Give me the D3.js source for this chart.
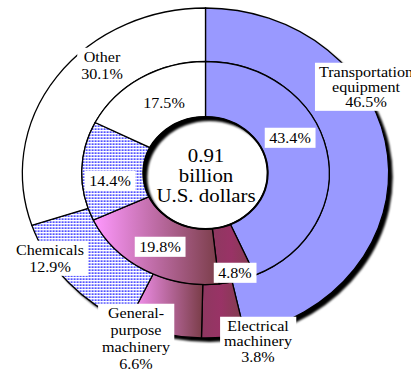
<!DOCTYPE html>
<html><head><meta charset="utf-8">
<script src="https://cdn.jsdelivr.net/npm/d3@7"></script>
<style>
html,body{margin:0;padding:0;background:#fff;}
svg{display:block;}
</style></head>
<body>
<svg id="chart" width="411" height="369"></svg>
<script>
// ---- data ----
const categories = ["Transportation equipment","Electrical machinery","General-purpose machinery","Chemicals","Other"];
const outerValues = [46.5, 3.8, 6.6, 12.9, 30.1];
const innerValues = [43.4, 4.8, 19.8, 14.4, 17.5];
const outerLabels = [["Transportation","equipment","46.5%"],["Electrical","machinery","3.8%"],["General-","purpose","machinery","6.6%"],["Chemicals","12.9%"],["Other","30.1%"]];
const innerLabels = ["43.4%","4.8%","19.8%","14.4%","17.5%"];
const centerLines = ["0.91","billion","U.S. dollars"];

// ---- layout ----
const FONT = "'Liberation Serif', 'Times New Roman', serif";
const cx = 205.5, cy = 173, sx = 1.11;
const rHole = 56, rMid = 111.5, rOut = 165;
const fills = ["#9999FF","url(#gElec)","url(#gGen)","url(#pChem)","#FFFFFF"];
const outerPos = [[366,77,15],[258,331,15.5],[136,318,17],[50,255,17],[102,62,17]];
const innerPos = [[290,143],[235,278],[160,252],[110,186],[164,108]];

const svg = d3.select("#chart");
const defs = svg.append("defs");

const gE = defs.append("linearGradient").attr("id","gElec").attr("x1","0").attr("x2","1").attr("y1","0").attr("y2","0");
gE.append("stop").attr("offset","0").attr("stop-color","#8E3860");
gE.append("stop").attr("offset","0.45").attr("stop-color","#993366");
gE.append("stop").attr("offset","1").attr("stop-color","#7F3F4C");
const gG = defs.append("linearGradient").attr("id","gGen").attr("x1","0").attr("x2","1").attr("y1","0").attr("y2","0");
gG.append("stop").attr("offset","0").attr("stop-color","#FF99FF");
gG.append("stop").attr("offset","1").attr("stop-color","#7A3D48");

const pat = defs.append("pattern").attr("id","pChem").attr("patternUnits","userSpaceOnUse")
  .attr("width",3).attr("height",3).attr("patternTransform",`scale(${1/sx},1)`);
pat.append("rect").attr("width",3).attr("height",3).attr("fill","#fff");
pat.append("rect").attr("x",0.3).attr("y",0.3).attr("width",1.7).attr("height",1.7).attr("fill","#3535FF");

const blur = defs.append("filter").attr("id","blur").attr("x","-10%").attr("y","-10%").attr("width","120%").attr("height","120%");
blur.append("feGaussianBlur").attr("stdDeviation",0.9);

const pie = d3.pie().sort(null).value(d => d);
const arcIn = d3.arc().innerRadius(rHole).outerRadius(rMid);
const arcOut = d3.arc().innerRadius(rMid).outerRadius(rOut);
const ring = d3.arc().innerRadius(rHole).outerRadius(rOut).startAngle(0).endAngle(2*Math.PI);

// shadow
svg.append("g").attr("transform",`translate(${cx+4},${cy+4}) scale(${sx},1)`)
  .append("path").attr("d", ring()).attr("fill","#000").attr("fill-rule","evenodd").attr("filter","url(#blur)");

const g = svg.append("g").attr("transform",`translate(${cx},${cy}) scale(${sx},1)`);
g.selectAll("path.out").data(pie(outerValues)).join("path").attr("class","out")
  .attr("d", arcOut).attr("fill",(d,i)=>fills[i])
  .attr("stroke","#000").attr("stroke-width",1.3).attr("vector-effect","non-scaling-stroke");
g.selectAll("path.in").data(pie(innerValues)).join("path").attr("class","in")
  .attr("d", arcIn).attr("fill",(d,i)=>fills[i])
  .attr("stroke","#000").attr("stroke-width",1.3).attr("vector-effect","non-scaling-stroke");
g.append("path").attr("d", d3.arc().innerRadius(0).outerRadius(rHole).startAngle(0).endAngle(2*Math.PI)())
  .attr("fill","none").attr("stroke","#000").attr("stroke-width",2).attr("vector-effect","non-scaling-stroke");

function label(lines, x, y0, step, fs, padX, padY){
  const lg = svg.append("g").attr("transform",`translate(${x},0) scale(${sx},1)`);
  const rect = lg.append("rect").attr("fill","#fff");
  const t = lg.append("text").attr("text-anchor","middle").attr("font-size",fs)
    .attr("font-family",FONT).attr("fill","#000");
  lines.forEach((s,i)=> t.append("tspan").attr("x",0).attr("y",y0+i*step).text(s));
  const b = t.node().getBBox();
  rect.attr("x",b.x-padX/sx).attr("y",b.y-padY).attr("width",b.width+2*padX/sx).attr("height",b.height+2*padY);
}
outerLabels.forEach((ls,i)=> label(ls, outerPos[i][0], outerPos[i][1], outerPos[i][2], 14.5, 4, 1));
innerLabels.forEach((s,i)=> label([s], innerPos[i][0], innerPos[i][1], 0, 14.5, 4.5, 2));

const ct = svg.append("g").attr("transform",`translate(206,0) scale(1.1,1)`)
  .append("text").attr("text-anchor","middle").attr("font-size",19).attr("font-family",FONT).attr("fill","#000");
centerLines.forEach((s,i)=> ct.append("tspan").attr("x",0).attr("y",162+i*20).text(s));
</script>
</body></html>
